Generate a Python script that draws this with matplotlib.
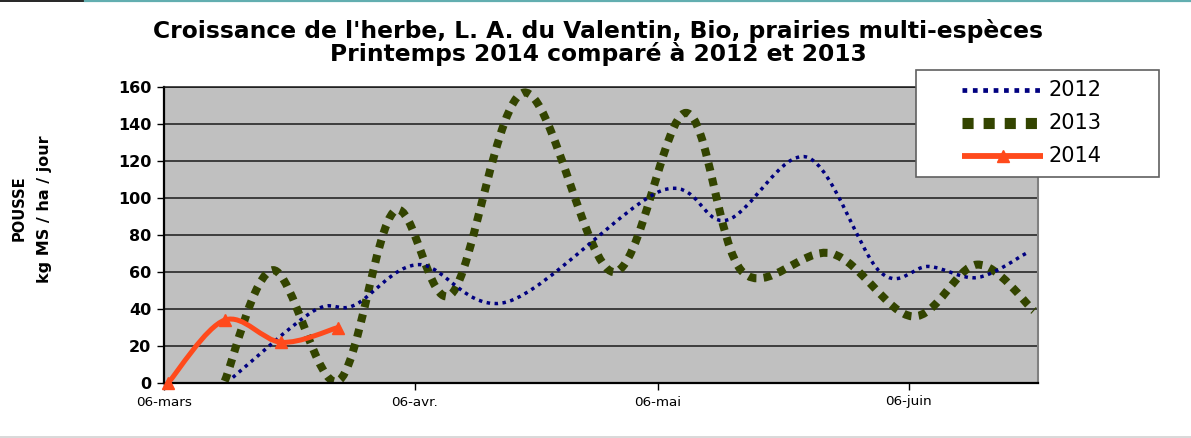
import matplotlib
matplotlib.use("Agg")
import matplotlib.pyplot as plt
import pandas as pd
from matplotlib.path import Path
from matplotlib.patches import PathPatch, Rectangle
from matplotlib.lines import Line2D

OUT = "out.png"
W, H = 1191, 438

# --- data (x = date within the spring season) ---
START = pd.Timestamp("2014-03-06")

dates_2012 = ["03-14", "03-24", "03-29", "04-06", "04-17", "05-06", "05-14",
              "05-24", "06-02", "06-08", "06-14", "06-20"]
vals_2012 = [3, 39, 42, 64, 44, 104, 88, 122, 60, 63, 57, 70]

dates_2013 = ["03-13", "03-19", "03-27", "04-03", "04-10", "04-19", "04-30",
              "05-09", "05-16", "05-27", "06-06", "06-14", "06-21"]
vals_2013 = [1, 61, 1, 93, 48, 157, 60, 146, 60, 70, 36, 64, 39]

dates_2014 = ["03-06", "03-13", "03-20", "03-27"]
vals_2014 = [0, 34, 22, 30]

tick_dates = ["03-06", "04-06", "05-06", "06-06"]
tick_labels = ["06-mars", "06-avr.", "06-mai", "06-juin"]
yticks = list(range(0, 161, 20))

C2012, C2013, C2014 = "#000080", "#334400", "#ff4a1c"
FONT = "DejaVu Sans"


def days(md, center=0.5):
    # days since 6 March; points sit in the middle of their day slot
    return [(pd.Timestamp("2014-" + d) - START).days + center for d in md]


def smooth_path(x, y):
    # Excel-like smoothed line: Catmull-Rom segments as cubic Beziers
    pts = list(zip(x, y))
    n = len(pts)
    verts, codes = [pts[0]], [Path.MOVETO]
    for i in range(n - 1):
        p0, p1 = pts[max(i - 1, 0)], pts[i]
        p2, p3 = pts[i + 1], pts[min(i + 2, n - 1)]
        c1 = (p1[0] + (p2[0] - p0[0]) / 6, p1[1] + (p2[1] - p0[1]) / 6)
        c2 = (p2[0] - (p3[0] - p1[0]) / 6, p2[1] - (p3[1] - p1[1]) / 6)
        verts += [c1, c2, p2]
        codes += [Path.CURVE4] * 3
    return Path(verts, codes)


plt.rcParams["font.family"] = FONT
fig = plt.figure(figsize=(W / 100, H / 100), dpi=100)
ax = fig.add_axes([164 / W, 1 - 383 / H, (1038 - 164) / W, (383 - 87) / H])
ax.set_facecolor("#c0c0c0")

ax.set_xlim(0, 108)
ax.set_ylim(0, 160)

for y in yticks[1:]:
    ax.axhline(y, color="#1a1a1a", lw=1.1, zorder=1)

# series
x12, x13, x14 = days(dates_2012), days(dates_2013), days(dates_2014)
p12 = PathPatch(smooth_path(x12, vals_2012), fill=False, edgecolor=C2012,
                lw=2.5, linestyle=(0, (1, 1.3)), capstyle="butt", zorder=3)
p13 = PathPatch(smooth_path(x13, vals_2013), fill=False, edgecolor=C2013,
                lw=5.8, linestyle=(0, (1, 0.9)), capstyle="butt", zorder=2)
p14 = PathPatch(smooth_path(x14, vals_2014), fill=False, edgecolor=C2014,
                lw=3.6, capstyle="round", zorder=4)
for p in (p13, p12, p14):
    ax.add_patch(p)
ax.plot(x14, vals_2014, ls="none", marker="^", ms=9, color=C2014,
        zorder=5, clip_on=False)

# axes styling
ax.set_yticks(yticks)
ax.set_yticklabels([str(v) for v in yticks], fontsize=11.5, fontweight="bold")
ax.set_xticks(days(tick_dates, center=0))
ax.set_xticklabels(tick_labels, fontsize=9.7)
ax.tick_params(axis="both", direction="out", length=5, width=1, color="black", pad=4)
for s in ("left", "bottom"):
    ax.spines[s].set_color("black")
    ax.spines[s].set_linewidth(1.6)
ax.spines["right"].set_color("#808080")
ax.spines["right"].set_linewidth(1.5)
ax.spines["top"].set_color("#1a1a1a")
ax.spines["top"].set_linewidth(1.1)

# titles
fig.text(598 / W, 1 - 42.5 / H,
         "Croissance de l'herbe, L. A. du Valentin, Bio, prairies multi-espèces\n"
         "Printemps 2014 comparé à 2012 et 2013",
         ha="center", va="center", fontsize=16.8, fontweight="bold", linespacing=0.98)
fig.text(19 / W, 1 - 208 / H, "POUSSE", rotation=90, ha="center", va="center",
         fontsize=10.5, fontweight="bold")
fig.text(45 / W, 1 - 209 / H, "kg MS / ha / jour", rotation=90, ha="center",
         va="center", fontsize=11.5, fontweight="bold")


# legend box drawn in figure pixels
def fx(px):
    return px / W


def fy(py):
    return 1 - py / H


fig.add_artist(Rectangle((fx(916), fy(177)), fx(1159) - fx(916), fy(70) - fy(177),
                         transform=fig.transFigure, facecolor="white",
                         edgecolor="#606060", lw=1.2, zorder=10))
rows = [(90, "2012"), (123, "2013"), (156, "2014")]
styles = [dict(color=C2012, lw=3.4, linestyle=(0, (1, 1.2))),
          dict(color=C2013, lw=8.0, linestyle=(0, (1, 0.9))),
          dict(color=C2014, lw=4.2, marker="^", ms=9, markevery=[1])]
for (py, lab), st in zip(rows, styles):
    xs = [fx(962), fx(1002.5), fx(1043)]
    fig.add_artist(Line2D(xs, [fy(py)] * 3, transform=fig.transFigure,
                          solid_capstyle="butt", dash_capstyle="butt",
                          zorder=11, **st))
    fig.text(fx(1049), fy(py), lab, ha="left", va="center", fontsize=15, zorder=12)

# thin frame lines of the original screenshot
fig.add_artist(Line2D([0, fx(85)], [fy(0.8)] * 2, transform=fig.transFigure,
                      color="black", lw=1.2))
fig.add_artist(Line2D([fx(85), 1], [fy(0.8)] * 2, transform=fig.transFigure,
                      color="#62aeb0", lw=1.6))
fig.add_artist(Line2D([0, 1], [fy(437)] * 2, transform=fig.transFigure,
                      color="#d2d2d2", lw=1.2))

fig.savefig(OUT, dpi=100)
